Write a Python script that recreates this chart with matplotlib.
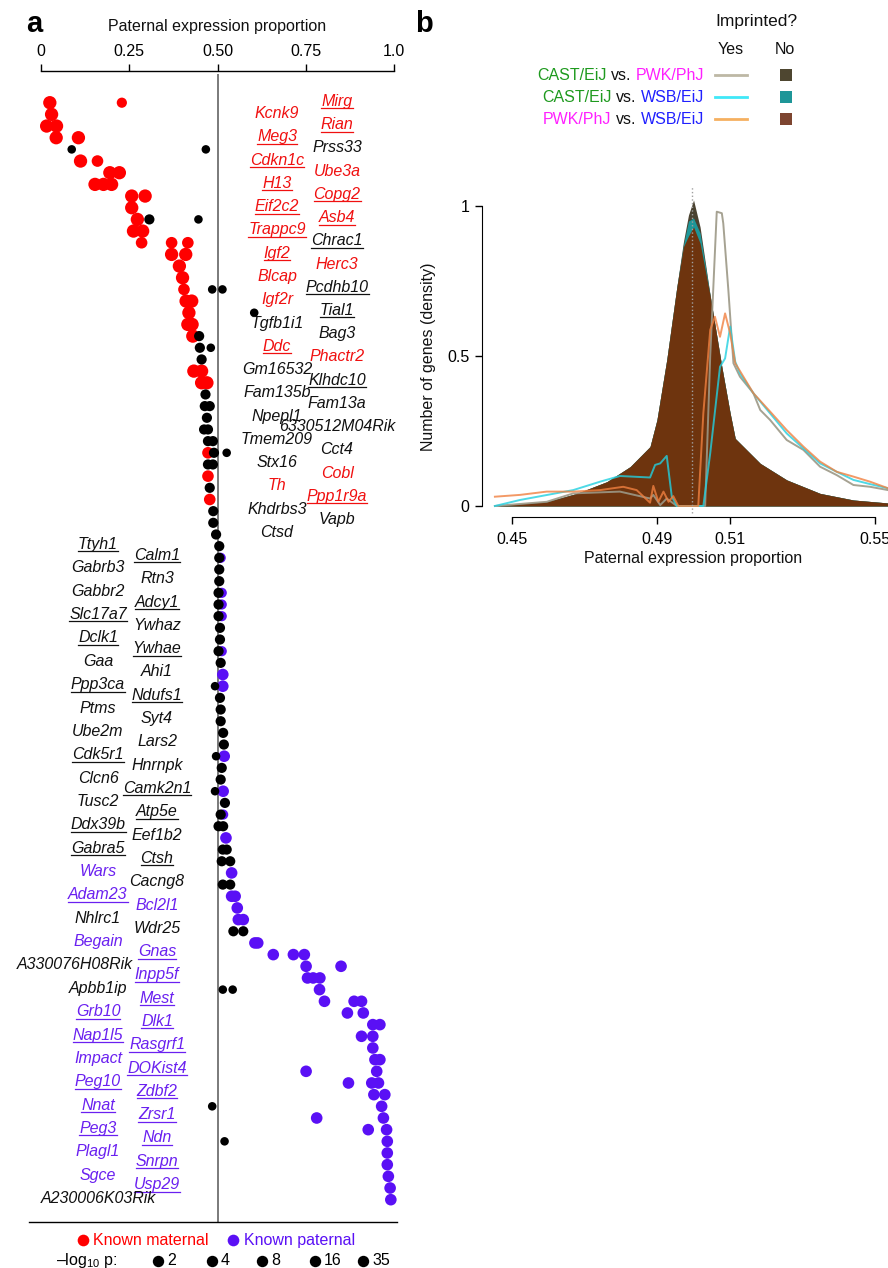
import matplotlib
matplotlib.use("Agg")
import matplotlib.pyplot as plt
from matplotlib.lines import Line2D
from matplotlib.patches import Rectangle

plt.rcParams["font.family"] = ["Liberation Sans", "DejaVu Sans"]
plt.rcParams["mathtext.fontset"] = "custom"
plt.rcParams["mathtext.rm"] = "Liberation Sans"
plt.rcParams["mathtext.default"] = "regular"
plt.rcParams["font.size"] = 11.5

# ---------------- panel a data: gene rank, paternal proportion, -log10 p ----------------
mat_rank = [0, 0, 1, 2, 2, 3, 3, 5, 5, 6, 6, 7, 7, 7, 8, 8, 9, 10, 11, 11,
            12, 12, 12, 13, 13, 14, 15, 16, 17, 17, 18, 19, 19, 20, 23, 23, 24, 24, 30, 32, 34]
mat_prop = [0.025, 0.229, 0.030, 0.016, 0.044, 0.043, 0.106, 0.112, 0.160, 0.195, 0.222,
            0.153, 0.177, 0.200, 0.257, 0.295, 0.257, 0.273, 0.262, 0.288,
            0.285, 0.370, 0.416, 0.370, 0.410, 0.392, 0.401, 0.405, 0.411, 0.427,
            0.419, 0.416, 0.428, 0.430, 0.433, 0.455, 0.455, 0.470, 0.473, 0.473, 0.478]
mat_sig = [35, 8, 35, 35, 35, 35, 35, 35, 16, 35, 35, 35, 35, 35, 35, 35, 35, 35, 35, 35,
           16, 16, 16, 35, 35, 35, 35, 16, 35, 35, 35, 35, 35, 35, 35, 35, 35, 35, 16, 16, 16]

pat_rank = [39, 42, 43, 44, 47, 49, 50, 56, 59, 61, 63, 66, 68, 68, 69, 70, 70, 72, 72,
            73, 73, 73, 74, 74, 75, 75, 75, 76, 77, 77, 77, 78, 78, 79, 79, 80, 80, 81,
            82, 82, 83, 83, 84, 84, 84, 85, 85, 86, 87, 87, 88, 88, 89, 90, 91, 92, 93, 94]
pat_prop = [0.509, 0.512, 0.512, 0.512, 0.512, 0.515, 0.515, 0.519, 0.516, 0.516, 0.524,
            0.540, 0.540, 0.550, 0.556, 0.559, 0.573, 0.606, 0.614,
            0.658, 0.715, 0.746, 0.751, 0.850, 0.755, 0.771, 0.790, 0.789, 0.803, 0.887, 0.908,
            0.868, 0.913, 0.940, 0.960, 0.908, 0.940, 0.940, 0.946, 0.960, 0.751, 0.951,
            0.871, 0.937, 0.956, 0.943, 0.974, 0.965, 0.781, 0.970, 0.927, 0.979,
            0.981, 0.981, 0.981, 0.984, 0.989, 0.991]
pat_sig = [8, 8, 8, 8, 8, 16, 16, 16, 16, 8, 16] + [16] * 47

oth_rank = [4, 4, 10, 10, 16, 16, 18, 20, 21, 21, 22, 25, 26, 26, 27, 28, 28, 29, 29, 30, 30,
            31, 31, 33, 35, 36, 37, 38, 39, 40, 41, 42, 43, 44, 45, 46, 47, 48, 50, 51, 52,
            53, 54, 55, 56, 57, 58, 59, 60, 61, 62, 62, 64, 64, 65, 65, 67, 67, 71, 71,
            76, 76, 86, 89]
oth_prop = [0.087, 0.467, 0.307, 0.446, 0.485, 0.514, 0.604, 0.448, 0.450, 0.481, 0.455,
            0.466, 0.464, 0.478, 0.470, 0.462, 0.473, 0.473, 0.487, 0.490, 0.526,
            0.473, 0.487, 0.478, 0.488, 0.488, 0.496, 0.505, 0.505, 0.505, 0.505, 0.503,
            0.503, 0.503, 0.507, 0.507, 0.503, 0.509, 0.493, 0.507, 0.509, 0.509, 0.516,
            0.518, 0.496, 0.512, 0.509, 0.493, 0.521, 0.509, 0.503, 0.516, 0.515, 0.526,
            0.512, 0.536, 0.515, 0.536, 0.545, 0.573, 0.515, 0.543, 0.485, 0.520]
oth_sig = [4, 4, 8, 4, 4, 4, 4, 8, 8, 4, 8, 8, 8, 8, 8, 8, 8, 8, 8, 8, 4,
           8, 8, 8, 8, 8, 8, 8, 8, 8, 8, 8, 8, 8, 8, 8, 8, 8, 4, 8, 8,
           8, 8, 8, 4, 8, 8, 4, 8, 8, 8, 8, 8, 8, 8, 8, 8, 8, 8, 8,
           4, 4, 4, 4]

# gene labels: name, class (m = known maternal, p = known paternal, n = other), underlined
top_left_genes = ["Kcnk9", "Meg3", "Cdkn1c", "H13", "Eif2c2", "Trappc9", "Igf2", "Blcap", "Igf2r",
                  "Tgfb1i1", "Ddc", "Gm16532", "Fam135b", "Npepl1", "Tmem209", "Stx16", "Th",
                  "Khdrbs3", "Ctsd"]
top_left_cls = "mmmmmmmmmnmnnnnnmnn"
top_left_ul = "0111111000100000000"

top_right_genes = ["Mirg", "Rian", "Prss33", "Ube3a", "Copg2", "Asb4", "Chrac1", "Herc3", "Pcdhb10",
                   "Tial1", "Bag3", "Phactr2", "Klhdc10", "Fam13a", "6330512M04Rik", "Cct4", "Cobl",
                   "Ppp1r9a", "Vapb"]
top_right_cls = "mmnmmmnmnnnmnnnnmmn"
top_right_ul = "1100111011001000010"

bot_left_genes = ["Ttyh1", "Gabrb3", "Gabbr2", "Slc17a7", "Dclk1", "Gaa", "Ppp3ca", "Ptms", "Ube2m",
                  "Cdk5r1", "Clcn6", "Tusc2", "Ddx39b", "Gabra5", "Wars", "Adam23", "Nhlrc1",
                  "Begain", "A330076H08Rik", "Apbb1ip", "Grb10", "Nap1l5", "Impact", "Peg10",
                  "Nnat", "Peg3", "Plagl1", "Sgce", "A230006K03Rik"]
bot_left_cls = "nnnnnnnnnnnnnnppnpnnppppppppn"
bot_left_ul = "10011010010011010000110111000"

bot_right_genes = ["Calm1", "Rtn3", "Adcy1", "Ywhaz", "Ywhae", "Ahi1", "Ndufs1", "Syt4", "Lars2",
                   "Hnrnpk", "Camk2n1", "Atp5e", "Eef1b2", "Ctsh", "Cacng8", "Bcl2l1", "Wdr25",
                   "Gnas", "Inpp5f", "Mest", "Dlk1", "Rasgrf1", "DOKist4", "Zdbf2", "Zrsr1", "Ndn",
                   "Snrpn", "Usp29"]
bot_right_cls = "nnnnnnnnnnnnnnnpnppppppppppp"
bot_right_ul = "1010101000110100011111111111"

sig_levels = [2, 4, 8, 16, 35]

# ---------------- panel b data ----------------
fill_x = [0.4452, 0.4595, 0.4678, 0.4761, 0.4825, 0.4880, 0.4899, 0.4926, 0.4954, 0.4972,
          0.4986, 0.5000, 0.5018, 0.5046, 0.5078, 0.5101, 0.5115, 0.5184, 0.5257, 0.5349,
          0.5441, 0.5537]
no_cast_pwk = [0.0, 0.014, 0.042, 0.081, 0.131, 0.198, 0.287, 0.487, 0.731, 0.880,
               0.970, 1.020, 0.930, 0.700, 0.464, 0.309, 0.225, 0.142, 0.087, 0.042, 0.020, 0.010]
no_cast_wsb = [0.0, 0.014, 0.042, 0.081, 0.131, 0.198, 0.287, 0.487, 0.731, 0.870,
               0.950, 0.960, 0.910, 0.700, 0.464, 0.309, 0.225, 0.142, 0.087, 0.042, 0.020, 0.010]
no_pwk_wsb = [0.0, 0.014, 0.042, 0.081, 0.131, 0.198, 0.287, 0.487, 0.731, 0.864,
              0.900, 0.930, 0.876, 0.700, 0.464, 0.309, 0.225, 0.142, 0.087, 0.042, 0.020, 0.010]

yes_cast_pwk_x = [0.4452, 0.4595, 0.4668, 0.4797, 0.4880, 0.4889, 0.4908, 0.4926, 0.4954,
                  0.5032, 0.5046, 0.5064, 0.5078, 0.5082, 0.5096, 0.5110, 0.5128, 0.5165,
                  0.5184, 0.5211, 0.5257, 0.5303, 0.5349, 0.5395, 0.5441, 0.5487, 0.5537]
yes_cast_pwk_y = [0.0, 0.014, 0.042, 0.048, 0.025, 0.037, 0.003, 0.025, 0.0,
                  0.0, 0.50, 0.981, 0.976, 0.942, 0.720, 0.476, 0.431, 0.376,
                  0.320, 0.287, 0.220, 0.187, 0.131, 0.103, 0.070, 0.064, 0.053]

yes_cast_wsb_x = [0.4452, 0.4521, 0.4668, 0.4742, 0.4797, 0.4880, 0.4894, 0.4908, 0.4926,
                  0.4940, 0.4954, 0.5027, 0.5046, 0.5073, 0.5087, 0.5101, 0.5115, 0.5128,
                  0.5165, 0.5211, 0.5257, 0.5303, 0.5349, 0.5395, 0.5441, 0.5487, 0.5537]
yes_cast_wsb_y = [0.0, 0.020, 0.053, 0.081, 0.100, 0.095, 0.137, 0.142, 0.167,
                  0.031, 0.0, 0.0, 0.176, 0.464, 0.492, 0.598, 0.481, 0.442,
                  0.376, 0.309, 0.242, 0.192, 0.142, 0.114, 0.087, 0.073, 0.059]

yes_pwk_wsb_x = [0.4452, 0.4521, 0.4595, 0.4668, 0.4742, 0.4806, 0.4843, 0.4880, 0.4889,
                 0.4903, 0.4917, 0.4931, 0.4944, 0.4958, 0.5013, 0.5027, 0.5046, 0.5059,
                 0.5073, 0.5087, 0.5101, 0.5115, 0.5165, 0.5211, 0.5257, 0.5303, 0.5349,
                 0.5395, 0.5441, 0.5487, 0.5537]
yes_pwk_wsb_y = [0.031, 0.037, 0.048, 0.048, 0.053, 0.064, 0.053, 0.011, 0.067,
                 0.014, 0.048, 0.014, 0.033, 0.0, 0.0, 0.309, 0.587, 0.631,
                 0.564, 0.642, 0.575, 0.476, 0.376, 0.315, 0.253, 0.198, 0.148,
                 0.114, 0.098, 0.081, 0.059]

# ---------------- layout helpers (figure pixels, origin top-left) ----------------
W, H = 888, 1268
fig = plt.figure(figsize=(W / 100, H / 100), dpi=100)

RED = "#ff0000"
PURPLE = "#5a10f5"
TXT = {"m": "#f01010", "p": "#6a20f0", "n": "#111111"}
ROW0, ROW_PX = 102.7, 11.67          # pixel y of rank 0 and spacing of ranks
P0, P_PX = 41, 353                   # pixel x of proportion 0 and width of 0..1
dot_size = {2: 22, 4: 38, 8: 54, 16: 70, 35: 92}

underlined = []


def put(x, y, s, color="#111111", ul=False, **kw):
    kw.setdefault("va", "baseline")
    t = fig.text(x / W, 1 - y / H, s, color=color, **kw)
    if ul:
        underlined.append(t)
    return t


def row_of(ypx):
    return (ypx - ROW0) / ROW_PX


# ---------------- panel a ----------------
ax_top, ax_bot, ax_l, ax_r = 70.7, 1222, 29, 397
axa = fig.add_axes([ax_l / W, 1 - ax_bot / H, (ax_r - ax_l) / W, (ax_bot - ax_top) / H])
axa.set_xlim((ax_l - P0) / P_PX, (ax_r - P0) / P_PX)
axa.set_ylim(row_of(ax_bot), row_of(ax_top))
axa.patch.set_visible(False)
for s in ["left", "right"]:
    axa.spines[s].set_visible(False)
axa.spines["top"].set_bounds(0, 1)
axa.spines["top"].set_linewidth(1.0)
axa.spines["bottom"].set_linewidth(1.0)
axa.xaxis.tick_top()
axa.set_xticks([0, 0.25, 0.5, 0.75, 1.0])
axa.set_xticklabels(["0", "0.25", "0.50", "0.75", "1.0"])
axa.tick_params(axis="x", direction="out", length=4.8, width=1.0, pad=3.5, labelsize=11.5)
axa.set_yticks([])
axa.plot([0.5, 0.5], [row_of(75), row_of(ax_bot)], color="#7a7a7a", lw=1.4, zorder=1)

axa.scatter(mat_prop, mat_rank, s=[dot_size[v] for v in mat_sig], color=RED, lw=0, zorder=2, clip_on=False)
axa.scatter(pat_prop, pat_rank, s=[dot_size[v] for v in pat_sig], color=PURPLE, lw=0, zorder=2, clip_on=False)
axa.scatter(oth_prop, oth_rank, s=[dot_size[v] for v in oth_sig], color="black", lw=0, zorder=3, clip_on=False)

put(26, 31.5, "a", color="black", fontsize=21, fontweight="bold")
put(217, 30.5, "Paternal expression proportion", ha="center", fontsize=11.5)

# gene label columns
columns = [
    (top_left_genes, top_left_cls, top_left_ul, 277, 118.0, 23.28),
    (top_right_genes, top_right_cls, top_right_ul, 337, 106.0, 23.22),
    (bot_left_genes, bot_left_cls, bot_left_ul, 98, 549.0, 23.36),
    (bot_right_genes, bot_right_cls, bot_right_ul, 157, 560.0, 23.3),
]
nudge = {"A330076H08Rik": -23}
for genes, cls, ul, xc, y0, dy in columns:
    for i, g in enumerate(genes):
        put(xc + nudge.get(g, 0), y0 + i * dy, g, color=TXT[cls[i]], ul=ul[i] == "1",
            ha="center", fontstyle="italic", fontsize=11.5)

# legend under panel a
leg_y1, leg_y2 = 1240, 1261
fig.add_artist(Line2D([83 / W], [1 - leg_y1 / H], marker="o", ms=8.4, color=RED, mew=0, ls=""))
put(93, leg_y1 + 5, "Known maternal", color=RED, fontsize=11.5)
fig.add_artist(Line2D([233 / W], [1 - leg_y1 / H], marker="o", ms=8.4, color=PURPLE, mew=0, ls=""))
put(244, leg_y1 + 5, "Known paternal", color=PURPLE, fontsize=11.5)
put(56, leg_y2 + 4, "\u2013log$_{10}$ p:", color="black", fontsize=11.5)
for xd, lv in zip([158, 212, 262, 315, 363], sig_levels):
    fig.add_artist(Line2D([xd / W], [1 - leg_y2 / H], marker="o", ms=8.2, color="black", mew=0, ls=""))
    put(xd + 9, leg_y2 + 4, str(lv), color="black", fontsize=11.5)

# ---------------- panel b ----------------
bl, br, bt, bb = 481.7, 888, 186, 516.7
axb = fig.add_axes([bl / W, 1 - bb / H, (br - bl) / W, (bb - bt) / H])
axb.set_xlim(0.45 - (512.3 - bl) / 3625, 0.45 + (br - 512.3) / 3625)
axb.set_ylim(-(bb - 506) / 300, (506 - bt) / 300)
axb.patch.set_visible(False)
axb.spines["top"].set_visible(False)
axb.spines["right"].set_visible(False)
axb.spines["left"].set_bounds(0, 1)
axb.spines["bottom"].set_bounds(0.45, 0.55)

axb.fill_between(fill_x, 0, no_cast_pwk, color="#4a4230", lw=0)
axb.fill_between(fill_x, 0, no_cast_wsb, color="#1e9698", lw=0)
axb.fill_between(fill_x, 0, no_pwk_wsb, color="#6e340e", lw=0)
axb.plot(yes_cast_pwk_x, yes_cast_pwk_y, color="#9c9886", lw=1.4, alpha=0.9)
axb.plot(yes_cast_wsb_x, yes_cast_wsb_y, color="#22d0e0", lw=1.4, alpha=0.8)
axb.plot(yes_pwk_wsb_x, yes_pwk_wsb_y, color="#f08040", lw=1.4, alpha=0.8)
axb.plot([0.4997, 0.4997], [-0.025, 1.065], color="#a0a0a0", lw=1.0, ls=":")

axb.set_xticks([0.45, 0.49, 0.51, 0.55])
axb.set_xticklabels(["0.45", "0.49", "0.51", "0.55"])
axb.set_yticks([0, 0.5, 1])
axb.set_yticklabels(["0", "0.5", "1"])
axb.tick_params(axis="x", direction="out", length=4.8, width=1.0, pad=6.5, labelsize=11.5)
axb.tick_params(axis="y", direction="out", length=4.8, width=1.0, pad=4, labelsize=11.5)
put(693, 563.5, "Paternal expression proportion", ha="center", fontsize=11.5)
put(428, 357, "Number of genes (density)", rotation=90, ha="center", va="center", fontsize=11.5)

put(415, 32, "b", color="black", fontsize=21, fontweight="bold")
put(756.7, 26, "Imprinted?", ha="center", fontsize=12.5)
put(730.7, 53.5, "Yes", ha="center", fontsize=11.5)
put(785, 53.5, "No", ha="center", fontsize=11.5)

GREEN, MAGENTA, BLUE = "#1e9a1e", "#ff20ff", "#2020ff"
legend_rows = [
    ([("CAST/EiJ", GREEN), ("vs.", "#111111"), ("PWK/PhJ", MAGENTA)], "#bdb8a5", "#4e4630"),
    ([("CAST/EiJ", GREEN), ("vs.", "#111111"), ("WSB/EiJ", BLUE)], "#40e8f8", "#1e9698"),
    ([("PWK/PhJ", MAGENTA), ("vs.", "#111111"), ("WSB/EiJ", BLUE)], "#f5b060", "#7d4530"),
]
fig.canvas.draw()
rend = fig.canvas.get_renderer()
for k, (pieces, lc, sc) in enumerate(legend_rows):
    yc = 74.7 + k * 22
    xr = 704
    for word, col in reversed(pieces):
        t = put(xr, yc + 5.3, word, color=col, ha="right", fontsize=11.5)
        ext = t.get_window_extent(rend)
        xr = ext.x0 - 4.4
    fig.add_artist(Line2D([715 / W, 747 / W], [1 - yc / H] * 2, color=lc, lw=2.0))
    fig.add_artist(Rectangle(((785.7 - 6) / W, 1 - (yc + 6) / H), 12 / W, 12 / H,
                             color=sc, lw=0, transform=fig.transFigure))

# underline the validated genes
fig.canvas.draw()
for t in underlined:
    ext = t.get_window_extent(rend)
    _, yb = t.get_transform().transform(t.get_position())
    yu = (yb - 2.4) / H
    fig.add_artist(Line2D([ext.x0 / W, ext.x1 / W], [yu, yu], color=t.get_color(), lw=0.9))

fig.savefig("out.png", dpi=100)
